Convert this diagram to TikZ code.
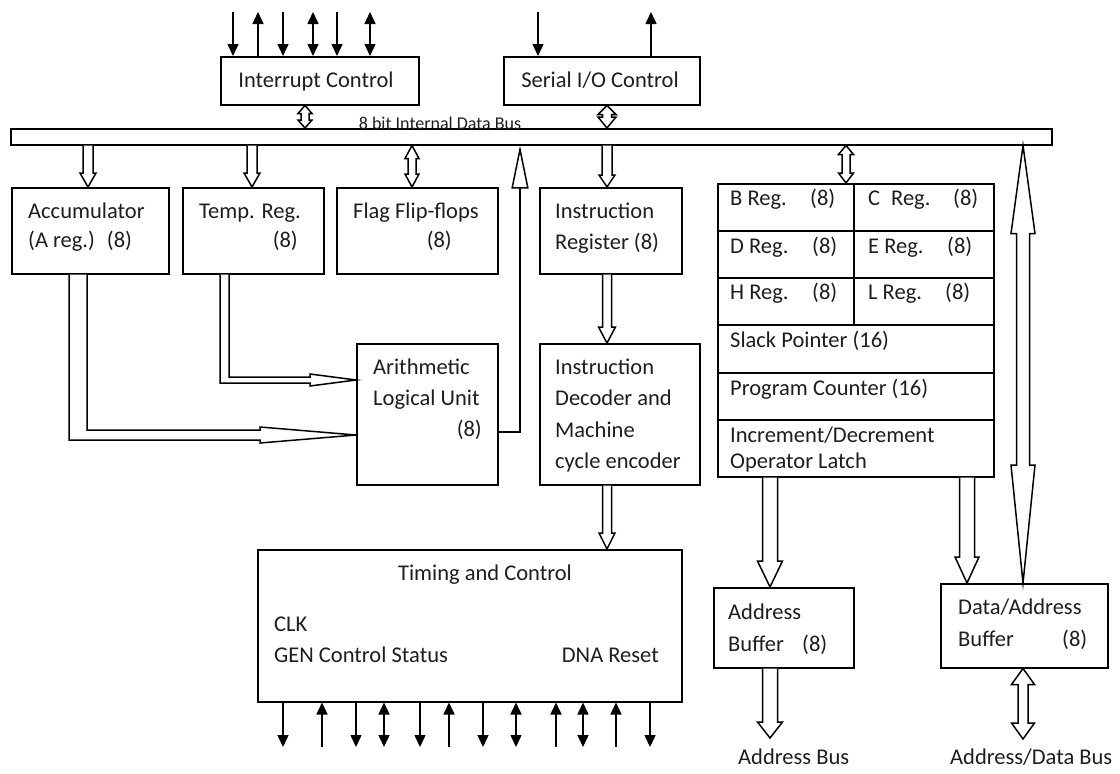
\documentclass[tikz,border=0pt]{standalone}
\usepackage{fontspec}
\setmainfont{Carlito}
\usetikzlibrary{arrows.meta,calc}
\definecolor{txt}{RGB}{30,30,30}
\newcommand\hdown[5]{\path[hollow] let \p1=(#1), \p2=(#2) in (\x1-#3pt,\y1) -- (\x1-#3pt,\y2+#5pt) -- (\x1-#4pt,\y2+#5pt) -- (\x1,\y2) -- (\x1+#4pt,\y2+#5pt) -- (\x1+#3pt,\y2+#5pt) -- (\x1+#3pt,\y1);}
\newcommand\hboth[6]{\path[hollow] let \p1=(#1), \p2=(#2) in (\x1,\y1) -- (\x1+#4pt,\y1-#5pt) -- (\x1+#3pt,\y1-#5pt) -- (\x1+#3pt,\y2+#6pt) -- (\x1+#4pt,\y2+#6pt) -- (\x1,\y2) -- (\x1-#4pt,\y2+#6pt) -- (\x1-#3pt,\y2+#6pt) -- (\x1-#3pt,\y1-#5pt) -- (\x1-#4pt,\y1-#5pt) -- cycle;}
\tikzset{
 box/.style={draw, line width=1.5pt, inner sep=0pt, anchor=north west},
 lbl/.style={inner sep=0pt, anchor=base west, font=\fontsize{22.5}{27}\selectfont, text=txt},
 lblr/.style={lbl, anchor=base east},
 lblc/.style={lbl, anchor=base},
 hollow/.style={draw, fill=white, line width=1.5pt, line join=miter},
 sig/.style={line width=1.5pt},
 sigd/.style={sig, -{Triangle[width=11pt,length=12pt]}},
 sigu/.style={sig, {Triangle[width=11pt,length=12pt]}-},
 sigb/.style={sig, {Triangle[width=11pt,length=12pt]}-{Triangle[width=11pt,length=12pt]}},
}
\begin{document}
\begin{tikzpicture}[x=1pt,y=-1pt]
\useasboundingbox[fill=white] (0,0) rectangle (1120,774);
% boxes
\node[box, minimum width=198, minimum height=48] (intc) at (220,56) {};
\node[box, minimum width=196, minimum height=48] (serial) at (503,56) {};
\node[box, minimum width=1041, minimum height=16] (bus) at (10,128) {};
\node[box, minimum width=157, minimum height=86] (acc) at (11,187) {};
\node[box, minimum width=141, minimum height=86] (temp) at (182,187) {};
\node[box, minimum width=161, minimum height=86] (flag) at (336,187) {};
\node[box, minimum width=142, minimum height=86] (ir) at (539,187) {};
\node[box, minimum width=141, minimum height=141] (alu) at (356,343) {};
\node[box, minimum width=160, minimum height=141] (dec) at (539,343) {};
\node[box, minimum width=276, minimum height=293] (regs) at (717,183) {};
\node[box, minimum width=424, minimum height=152] (tim) at (257,549) {};
\node[box, minimum width=140, minimum height=80] (abuf) at (713,587) {};
\node[box, minimum width=167, minimum height=84] (dabuf) at (940,583) {};
% register block dividers
\foreach \yy in {231,278,325,373,420} \draw[sig] (regs.west |- 0,\yy) -- (regs.east |- 0,\yy);
\draw[sig] (854,0 |- regs.north) -- (854,325);
% texts
\node[lblc] (tIntc) at (316,87) {Interrupt Control};
\node[lblc] (tSer) at (600,87) {Serial I/O Control};
\node[lblc, font=\fontsize{18}{20}\selectfont] (tBus) at (440,129) {8 bit Internal Data Bus};
\node[lbl] (tAcc1) at (28,218) {Accumulator};
\node[lbl] (tAcc2) at (28,247) {(A reg.)\hspace{12pt}(8)};
\node[lbl] (tTmp1) at (199,218) {Temp. Reg.};
\node[lblr] (tTmp2) at (298,247) {(8)};
\node[lbl] (tFlg1) at (353,218) {Flag Flip-flops};
\node[lblr] (tFlg2) at (452,247) {(8)};
\node[lbl] (tIr1) at (555,218) {Instruction};
\node[lbl] (tIr2) at (555,249) {Register (8)};
\node[lbl] (tAlu1) at (373,374) {Arithmetic};
\node[lbl] (tAlu2) at (373,405) {Logical Unit};
\node[lblr] (tAlu3) at (482,436) {(8)};
\node[lbl] (tDec1) at (555,374) {Instruction};
\node[lbl] (tDec2) at (555,405) {Decoder and};
\node[lbl] (tDec3) at (555,437) {Machine};
\node[lbl] (tDec4) at (555,468) {cycle encoder};
\node[lbl] (tB) at (730,205) {B Reg.};
\node[lbl] (tB8) at (810,205) {(8)};
\node[lbl] (tC) at (868,205) {C\hspace{11pt}Reg.};
\node[lbl] (tC8) at (953,205) {(8)};
\node[lbl] (tD) at (730,253) {D Reg.};
\node[lbl] (tD8) at (812,253) {(8)};
\node[lbl] (tE) at (868,253) {E Reg.};
\node[lbl] (tE8) at (947,253) {(8)};
\node[lbl] (tH) at (730,299) {H Reg.};
\node[lbl] (tH8) at (812,299) {(8)};
\node[lbl] (tL) at (868,299) {L Reg.};
\node[lbl] (tL8) at (945,299) {(8)};
\node[lbl] (tSP) at (730,347) {Slack Pointer (16)};
\node[lbl] (tPC) at (730,395) {Program Counter (16)};
\node[lbl] (tID1) at (730,442) {Increment/Decrement};
\node[lbl] (tID2) at (730,468) {Operator Latch};
\node[lblc] (tTim) at (485,580.5) {Timing and Control};
\node[lbl] (tClk) at (274,631.5) {CLK};
\node[lbl] (tGen) at (274,662.5) {GEN Control Status};
\node[lblr] (tDna) at (659,662.5) {DNA Reset};
\node[lbl] (tAb1) at (728,619.5) {Address};
\node[lbl] (tAb2) at (728,651) {Buffer};
\node[lbl] (tAb3) at (802,651) {(8)};
\node[lbl] (tDa1) at (958,614) {Data/Address};
\node[lbl] (tDa2) at (958,646.5) {Buffer};
\node[lbl] (tDa3) at (1062,646.5) {(8)};
\node[lbl] (tAbus) at (738,764.5) {Address Bus};
\node[lbl] (tDbus) at (950,764.5) {Address/Data Bus};
% hollow bus arrows
\hboth{305,0 |- intc.south}{305,0 |- bus.north}{4}{7}{8}{8}
\hboth{607,0 |- serial.south}{607,0 |- bus.north}{4.5}{9}{9}{11}
\hdown{88,0 |- bus.south}{88,0 |- acc.north}{5}{8}{14}
\hdown{252,0 |- bus.south}{252,0 |- temp.north}{5}{8}{14}
\hboth{412,0 |- bus.south}{412,0 |- flag.north}{4}{7}{13}{13}
\hdown{607,0 |- bus.south}{607,0 |- ir.north}{5}{8}{12}
\hboth{846,0 |- bus.south}{846,0 |- regs.north}{4}{7.5}{9}{10}
\hdown{607,0 |- ir.south}{607,0 |- dec.north}{4.5}{8.5}{16}
\hdown{607,0 |- dec.south}{607,0 |- tim.north}{4.5}{8}{16}
\hdown{770,0 |- regs.south}{770,0 |- abuf.north}{7.5}{12.5}{26}
\coordinate (abus) at (770,738);
\hdown{770,0 |- abuf.south}{abus}{7.5}{12.5}{16}
\hdown{967,0 |- regs.south}{967,0 |- dabuf.north}{7.5}{12}{26}
\coordinate (dbus) at (1023,739);
\hboth{1023,0 |- dabuf.south}{dbus}{5}{11.5}{16}{16}
\hboth{1023,0 |- bus.south}{1023,0 |- dabuf.north}{6.5}{12}{88}{118}
% acc and temp to ALU
\path[hollow] (69,0 |- acc.south) -- (69,440) -- (260,440) -- (260,443) -- (alu.west |- 0,435) -- (260,427) -- (260,430) -- (87,430) -- (87,0 |- acc.south);
\path[hollow] (220,0 |- temp.south) -- (220,383) -- (310,383) -- (310,386) -- (alu.west |- 0,380) -- (310,374) -- (310,377) -- (229,377) -- (229,0 |- temp.south);
% ALU to bus
\draw[sig, -{Triangle[open,width=17pt,length=43pt,line width=1.5pt]}] (alu.east |- 0,432) -| (520,0 |- bus.south);
% control signals
\foreach \x/\t in {233/d,258/u,283/d,313/b,337/d,370/b} {
  \coordinate (it\x) at (\x,12);
  \draw[sig\t] (it\x) -- (it\x |- intc.north);
}
\foreach \x/\t in {538/d,651/u} {
  \coordinate (st\x) at (\x,12);
  \draw[sig\t] (st\x) -- (st\x |- serial.north);
}
\foreach \x/\t in {283/d,322/u,356/d,384/b,420/d,449/u,483/d,516/b,556/u,583/b,616/u,650/d} {
  \coordinate (tb\x) at (\x,747);
  \draw[sig\t] (tb\x |- tim.south) -- (tb\x);
}
\end{tikzpicture}
\end{document}
